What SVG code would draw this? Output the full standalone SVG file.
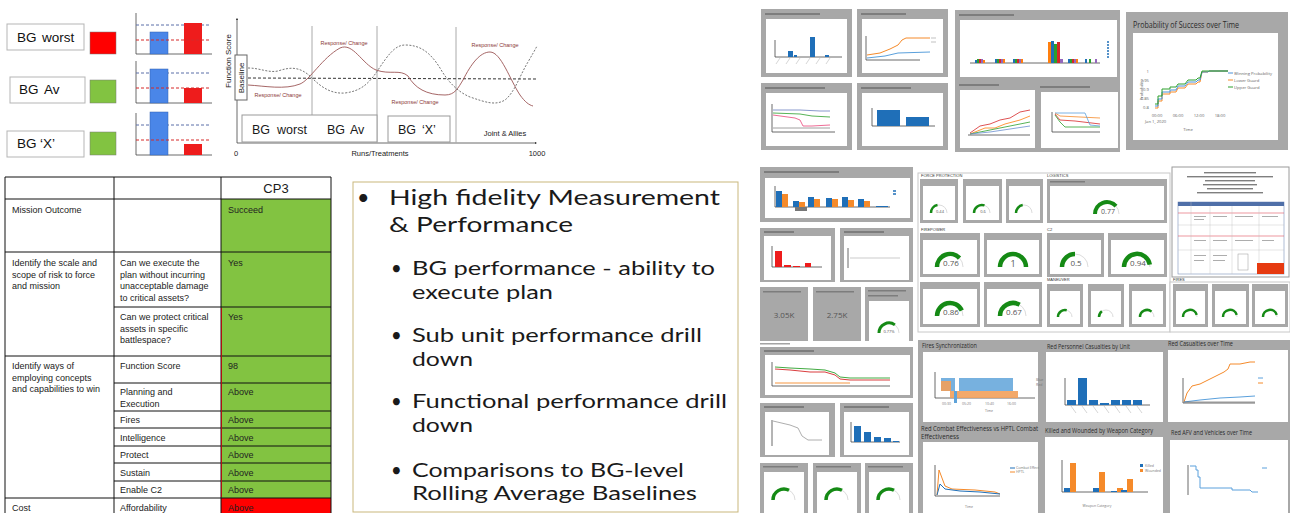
<svg xmlns="http://www.w3.org/2000/svg" width="1290" height="513" viewBox="0 0 1290 513">
  <style>
    .sans { font-family: "Liberation Sans", Arial, sans-serif; fill: #1a1a1a; }
    .lbl { font-family: "Liberation Sans", Arial, sans-serif; fill: #111; font-size: 13.5px; }
    .cell { font-family: "Liberation Sans", Arial, sans-serif; fill: #222; font-size: 9px; }
    .bul { font-family: Lato, "Open Sans", sans-serif; fill: #1a1a1a; }
    .resp { font-family: "Liberation Sans", Arial, sans-serif; fill: #8b3a3a; font-size: 5.5px; }
    .ttl { font-family: "Open Sans", "Noto Sans", sans-serif; fill: #2b2b2b; }
    .gv { font-family: "Open Sans", "Noto Sans", sans-serif; fill: #555; text-anchor: middle; }
    .panel { fill: #a8a8a8; }
    .inner { fill: #ffffff; }
    .tbar { fill: #5a5a5a; opacity: 0.55; }
    .grid { stroke: #111; stroke-width: 1; fill: none; }
    .gbg { fill: none; stroke: #dcdcdc; stroke-width: 1; }
    .gfg { fill: none; stroke: #158a15; }
    .ax { stroke: #444; stroke-width: 0.8; fill: none; }
    .tiny { stroke: #bbb; stroke-width: 0.6; fill: none; }
  </style>
  <defs>
    <marker id="tip" viewBox="0 0 4 4" refX="2" refY="2" markerWidth="3" markerHeight="3" orient="auto">
      <path d="M0,0 L4,2 L0,4 z" fill="#333"/>
    </marker>
  </defs>

  <rect width="1290" height="513" fill="#ffffff"/>

  <!-- Battlegroup labels with status swatches -->
  <g id="bg-worst">
    <rect x="7" y="24" width="77" height="26" fill="#fff" stroke="#b5b5b5"/>
    <text class="lbl" x="17" y="42">BG</text><text class="lbl" x="42" y="42">worst</text>
    <rect x="90" y="32" width="26" height="22" fill="#ff0000" stroke="#777" stroke-width="0.5"/>
  </g>
  <g id="bg-av">
    <rect x="10" y="77" width="75" height="26" fill="#fff" stroke="#b5b5b5"/>
    <text class="lbl" x="19" y="94">BG</text><text class="lbl" x="44" y="94">Av</text>
    <rect x="90" y="80" width="26" height="23" fill="#82c341" stroke="#777" stroke-width="0.5"/>
  </g>
  <g id="bg-x">
    <rect x="7" y="131" width="77" height="26" fill="#fff" stroke="#b5b5b5"/>
    <text class="lbl" x="17" y="148">BG</text><text class="lbl" x="40" y="148">‘X’</text>
    <rect x="90" y="132" width="26" height="23" fill="#82c341" stroke="#777" stroke-width="0.5"/>
  </g>

  <!-- Mini bar charts: blue = baseline, red = battlegroup -->
  <g id="mini-bars">
    <g>
      <path class="ax" d="M136,54 V13 M136,54 H212"/>
      <line x1="136" y1="25" x2="211" y2="25" stroke="#5b6fa8" stroke-dasharray="3,2"/>
      <rect x="150" y="32" width="18" height="22" fill="#4a86e8" stroke="#3060b0" stroke-width="0.5"/>
      <rect x="184" y="23" width="18" height="31" fill="#ee1c1c"/>
      <line x1="136" y1="40" x2="211" y2="40" stroke="#d62828" stroke-dasharray="3,2"/>
    </g>
    <g>
      <path class="ax" d="M136,103 V61 M136,103 H212"/>
      <line x1="136" y1="73" x2="211" y2="73" stroke="#5b6fa8" stroke-dasharray="3,2"/>
      <rect x="150" y="69" width="18" height="34" fill="#4a86e8" stroke="#3060b0" stroke-width="0.5"/>
      <rect x="184" y="88" width="18" height="15" fill="#ee1c1c"/>
      <line x1="136" y1="88" x2="211" y2="88" stroke="#d62828" stroke-dasharray="3,2"/>
    </g>
    <g>
      <path class="ax" d="M136,155 V113 M136,155 H212"/>
      <line x1="136" y1="125" x2="211" y2="125" stroke="#5b6fa8" stroke-dasharray="3,2"/>
      <rect x="150" y="112" width="18" height="43" fill="#4a86e8" stroke="#3060b0" stroke-width="0.5"/>
      <rect x="184" y="144" width="18" height="11" fill="#ee1c1c"/>
      <line x1="136" y1="140" x2="211" y2="140" stroke="#d62828" stroke-dasharray="3,2"/>
    </g>
  </g>

  <!-- Function score against runs -->
  <g id="score-chart">
    <text class="sans" font-size="8" text-anchor="middle" transform="translate(231,61) rotate(-90)">Function Score</text>
    <path class="ax" d="M237,143 V19" marker-end="url(#tip)"/>
    <path class="ax" d="M237,143 H536" marker-end="url(#tip)"/>
    <line x1="312" y1="26" x2="312" y2="116" stroke="#aaa"/>
    <line x1="377" y1="26" x2="377" y2="143" stroke="#aaa"/>
    <line x1="456" y1="27" x2="456" y2="143" stroke="#aaa"/>
    <line x1="248" y1="78" x2="536" y2="79" stroke="#333" stroke-dasharray="3,2"/>
    <path d="M248,85 C265,86 285,90 300,84 C310,80 322,58 340,48 C353,42 362,64 376,70 C390,75 400,69 408,76 C415,88 426,95 445,95 C455,95 458,88 463,80 C471,64 480,52 490,52 C501,52 510,80 520,95 C525,102 529,105 533,106" fill="none" stroke="#9b5555" stroke-width="0.9"/>
    <path d="M248,68 C260,68 268,73 278,71 C290,67 300,66 312,78 C322,88 332,94 345,93 C360,91 368,85 378,70 C388,55 395,45 405,45 C420,45 430,52 440,68 C448,82 458,92 470,97 C485,102 495,106 505,100 C515,92 520,75 528,62 C532,55 535,50 537,46" fill="none" stroke="#666" stroke-width="0.9" stroke-dasharray="2,1.5"/>
    <rect x="235" y="55" width="12" height="45" fill="#fff" stroke="#666"/>
    <text class="sans" font-size="8" text-anchor="middle" transform="translate(244,78) rotate(-90)">Baseline</text>
    <text class="resp" x="344" y="45" text-anchor="middle">Response/ Change</text>
    <text class="resp" x="278" y="97" text-anchor="middle">Response/ Change</text>
    <text class="resp" x="415" y="104" text-anchor="middle">Response/ Change</text>
    <text class="resp" x="495" y="47" text-anchor="middle">Response/ Change</text>
    <rect x="242" y="115" width="135" height="27" fill="#fff" stroke="#999"/>
    <text class="sans" font-size="12.5" x="252" y="134">BG</text>
    <text class="sans" font-size="12.5" x="277" y="134">worst</text>
    <text class="sans" font-size="12.5" x="327" y="134">BG</text>
    <text class="sans" font-size="12.5" x="350" y="134">Av</text>
    <rect x="388" y="116" width="62" height="26" fill="#fff" stroke="#999"/>
    <text class="sans" font-size="12.5" x="398" y="134">BG</text>
    <text class="sans" font-size="12.5" x="422" y="134">‘X’</text>
    <text class="sans" font-size="7.5" x="505" y="136" text-anchor="middle">Joint &amp; Allies</text>
    <text class="sans" font-size="7.5" x="236" y="156" text-anchor="middle">0</text>
    <text class="sans" font-size="7.5" x="380" y="156" text-anchor="middle">Runs/Treatments</text>
    <text class="sans" font-size="7.5" x="537" y="156" text-anchor="middle">1000</text>
  </g>

  <!-- Assessment table -->
  <g id="assessment-table">
    <rect x="221" y="199" width="110" height="299" fill="#82c341"/>
    <rect x="221" y="498" width="110" height="15" fill="#ff0000"/>
    <path class="grid" d="M5,177 H331 M5,199 H331 M5,252 H331 M5,356 H331 M5,498 H331 M114,307 H331 M114,383 H331 M114,411 H331 M114,428 H331 M114,446 H331 M114,463 H331 M114,481 H331 M5,177 V513 M114,177 V513 M221,177 V513 M331,177 V513"/>
    <line x1="221.5" y1="308" x2="221.5" y2="497" stroke="#b01010" stroke-width="1"/>
    <text class="sans" font-size="13" x="276" y="193" text-anchor="middle">CP3</text>
    <text class="cell" x="12" y="213">Mission Outcome</text>
    <text class="cell" x="228" y="213">Succeed</text>
    <text class="cell" x="12" y="266">Identify the scale and</text>
    <text class="cell" x="12" y="277.5">scope of risk to force</text>
    <text class="cell" x="12" y="289">and mission</text>
    <text class="cell" x="120" y="266">Can we execute the</text>
    <text class="cell" x="120" y="277.5">plan without incurring</text>
    <text class="cell" x="120" y="289">unacceptable damage</text>
    <text class="cell" x="120" y="300.5">to critical assets?</text>
    <text class="cell" x="228" y="266">Yes</text>
    <text class="cell" x="120" y="320">Can we protect critical</text>
    <text class="cell" x="120" y="331.5">assets in specific</text>
    <text class="cell" x="120" y="343">battlespace?</text>
    <text class="cell" x="228" y="320">Yes</text>
    <text class="cell" x="12" y="369">Identify ways of</text>
    <text class="cell" x="12" y="380.5">employing concepts</text>
    <text class="cell" x="12" y="392">and capabilities to win</text>
    <text class="cell" x="120" y="369">Function Score</text>
    <text class="cell" x="228" y="369">98</text>
    <text class="cell" x="120" y="395">Planning and</text>
    <text class="cell" x="120" y="406.5">Execution</text>
    <text class="cell" x="228" y="395">Above</text>
    <text class="cell" x="120" y="423">Fires</text>
    <text class="cell" x="228" y="423">Above</text>
    <text class="cell" x="120" y="441">Intelligence</text>
    <text class="cell" x="228" y="441">Above</text>
    <text class="cell" x="120" y="458">Protect</text>
    <text class="cell" x="228" y="458">Above</text>
    <text class="cell" x="120" y="476">Sustain</text>
    <text class="cell" x="228" y="476">Above</text>
    <text class="cell" x="120" y="493">Enable C2</text>
    <text class="cell" x="228" y="493">Above</text>
    <text class="cell" x="12" y="511">Cost</text>
    <text class="cell" x="120" y="511">Affordability</text>
    <text class="cell" x="228" y="511">Above</text>
  </g>

  <!-- Capability bullet points -->
  <g id="capability-notes">
    <rect x="353" y="182" width="385" height="330" fill="#fff" stroke="#c9b77d" stroke-width="1"/>
    <text class="bul" font-size="21.5" x="357" y="205">•</text>
    <text class="bul" font-size="21.5" x="389" y="205" textLength="331" lengthAdjust="spacingAndGlyphs">High fidelity Measurement</text>
    <text class="bul" font-size="21.5" x="389" y="232" textLength="184" lengthAdjust="spacingAndGlyphs">&amp; Performance</text>
    <text class="bul" font-size="18.5" x="391" y="275">•</text>
    <text class="bul" font-size="18.5" x="412" y="275" textLength="303" lengthAdjust="spacingAndGlyphs">BG performance  - ability to</text>
    <text class="bul" font-size="18.5" x="412" y="299" textLength="141" lengthAdjust="spacingAndGlyphs">execute plan</text>
    <text class="bul" font-size="18.5" x="391" y="342">•</text>
    <text class="bul" font-size="18.5" x="412" y="342" textLength="290" lengthAdjust="spacingAndGlyphs">Sub unit performance drill</text>
    <text class="bul" font-size="18.5" x="412" y="366" textLength="61" lengthAdjust="spacingAndGlyphs">down</text>
    <text class="bul" font-size="18.5" x="391" y="408">•</text>
    <text class="bul" font-size="18.5" x="412" y="408" textLength="315" lengthAdjust="spacingAndGlyphs">Functional performance drill</text>
    <text class="bul" font-size="18.5" x="412" y="432" textLength="61" lengthAdjust="spacingAndGlyphs">down</text>
    <text class="bul" font-size="18.5" x="391" y="477">•</text>
    <text class="bul" font-size="18.5" x="412" y="477" textLength="272" lengthAdjust="spacingAndGlyphs">Comparisons to BG-level</text>
    <text class="bul" font-size="18.5" x="412" y="500" textLength="285" lengthAdjust="spacingAndGlyphs">Rolling Average Baselines</text>
  </g>

  <!-- Dashboard: blue force panels -->
  <g id="dash-blue">
    <rect class="panel" x="761" y="9" width="91" height="68"/>
    <rect class="inner" x="766" y="19" width="81" height="54"/>
    <rect class="tbar" x="765" y="13" width="55" height="2"/>
    <path class="ax" d="M775,57 H842 M775,57 V40"/>
    <rect x="788" y="51" width="5" height="6" fill="#1f6fb8"/>
    <rect x="794" y="55" width="3" height="2" fill="#1f6fb8"/>
    <rect x="810" y="37" width="5" height="20" fill="#1f6fb8"/>
    <rect x="825" y="55" width="4" height="2" fill="#1f6fb8"/>
    <path class="tiny" d="M780,58 l-4,6 M790,58 l-4,6 M800,58 l-4,6 M810,58 l-4,6 M820,58 l-4,6 M830,58 l-4,6"/>

    <rect class="panel" x="857" y="9" width="91" height="68"/>
    <rect class="inner" x="862" y="19" width="81" height="54"/>
    <rect class="tbar" x="861" y="13" width="45" height="2"/>
    <path class="ax" d="M866,60 H920 M866,60 V36"/>
    <polyline points="867,55 880,53 890,49 898,45 902,40 906,38 930,38" fill="none" stroke="#f58a2a" stroke-width="1"/>
    <polyline points="867,58 885,56 898,53 930,52" fill="none" stroke="#5aa0dc" stroke-width="1"/>
    <path d="M931,38 h5 M931,42 h5" stroke="#999" stroke-width="0.6"/>

    <rect class="panel" x="761" y="83" width="91" height="67"/>
    <rect class="inner" x="766" y="93" width="81" height="53"/>
    <rect class="tbar" x="765" y="87" width="60" height="2"/>
    <path class="ax" d="M772,132 H835 M772,132 V104"/>
    <polyline points="773,110 800,110 820,111 830,111" fill="none" stroke="#6b7fc0" stroke-width="0.8"/>
    <polyline points="773,113 800,114 812,116 830,117" fill="none" stroke="#2ca02c" stroke-width="0.8"/>
    <polyline points="773,115 795,118 800,120 803,126 812,126 830,125" fill="none" stroke="#e8457a" stroke-width="0.8"/>
    <polyline points="773,128 800,128 830,128" fill="none" stroke="#888" stroke-width="0.8"/>

    <rect class="panel" x="857" y="83" width="91" height="67"/>
    <rect class="inner" x="862" y="93" width="81" height="53"/>
    <rect class="tbar" x="861" y="87" width="50" height="2"/>
    <path class="ax" d="M872,126 H935 M872,126 V108"/>
    <rect x="877" y="110" width="23" height="16" fill="#1f6fb8"/>
    <rect x="906" y="117" width="23" height="9" fill="#1f6fb8"/>
  </g>

  <!-- Dashboard: net casualties and vehicles -->
  <g id="dash-net">
    <rect class="panel" x="955" y="10" width="165" height="142"/>
    <rect class="inner" x="960" y="20" width="157" height="57"/>
    <rect class="tbar" x="959" y="14" width="55" height="2"/>
    <path class="ax" d="M970,63 H1100"/>
    <rect x="975" y="60" width="2" height="3" fill="#1f6fb8"/><rect x="977" y="59" width="2" height="4" fill="#2ca02c"/><rect x="979" y="59" width="2" height="4" fill="#d62728"/><rect x="981" y="59" width="2" height="4" fill="#9467bd"/><rect x="983" y="60" width="2" height="3" fill="#ff7f0e"/>
    <rect x="995" y="59" width="2" height="4" fill="#1f6fb8"/><rect x="997" y="59" width="2" height="4" fill="#2ca02c"/><rect x="999" y="59" width="2" height="4" fill="#d62728"/><rect x="1001" y="59" width="2" height="4" fill="#9467bd"/><rect x="1003" y="59" width="2" height="4" fill="#ff7f0e"/>
    <rect x="1013" y="59" width="2" height="4" fill="#1f6fb8"/><rect x="1015" y="59" width="2" height="4" fill="#2ca02c"/><rect x="1017" y="59" width="2" height="4" fill="#d62728"/><rect x="1019" y="59" width="2" height="4" fill="#9467bd"/><rect x="1021" y="59" width="2" height="4" fill="#ff7f0e"/>
    <rect x="1048" y="42" width="3" height="21" fill="#ff7f0e"/><rect x="1051" y="41" width="3" height="22" fill="#1f6fb8"/><rect x="1054" y="44" width="3" height="19" fill="#2ca02c"/><rect x="1057" y="42" width="3" height="21" fill="#d62728"/><rect x="1060" y="59" width="3" height="4" fill="#9467bd"/>
    <rect x="1068" y="59" width="2" height="4" fill="#1f6fb8"/><rect x="1070" y="59" width="2" height="4" fill="#2ca02c"/><rect x="1072" y="59" width="2" height="4" fill="#d62728"/><rect x="1074" y="59" width="2" height="4" fill="#9467bd"/><rect x="1076" y="59" width="2" height="4" fill="#ff7f0e"/>
    <rect x="1085" y="59" width="2" height="4" fill="#1f6fb8"/><rect x="1089" y="59" width="2" height="4" fill="#2ca02c"/><rect x="1095" y="59" width="2" height="4" fill="#9467bd"/>
    <path d="M1107,42 h2 M1107,45 h2 M1107,48 h2 M1107,51 h2 M1107,54 h2 M1107,57 h2" stroke="#1f6fb8" stroke-width="1.5"/>

    <rect class="inner" x="960" y="90" width="75" height="58"/>
    <rect class="tbar" x="959" y="84" width="40" height="2"/>
    <path class="ax" d="M968,135 H1030"/>
    <polyline points="970,133 980,126 990,124 1000,120 1010,118 1020,112 1030,110" fill="none" stroke="#d62728" stroke-width="0.8"/>
    <polyline points="970,134 985,128 995,128 1005,124 1020,120 1030,116" fill="none" stroke="#ff7f0e" stroke-width="0.8"/>
    <polyline points="970,134 990,130 1010,126 1030,122" fill="none" stroke="#2ca02c" stroke-width="0.8"/>
    <polyline points="970,134 990,132 1010,129 1030,126" fill="none" stroke="#6b8fd0" stroke-width="0.8"/>

    <rect class="inner" x="1041" y="92" width="77" height="56"/>
    <rect class="tbar" x="1040" y="86" width="50" height="2"/>
    <path class="ax" d="M1052,132 H1100 M1052,132 V112"/>
    <polyline points="1055,113 1060,116 1080,117 1100,118" fill="none" stroke="#f58a2a" stroke-width="0.8"/>
    <polyline points="1055,114 1060,120 1075,121 1100,124" fill="none" stroke="#d62728" stroke-width="0.8"/>
    <polyline points="1055,115 1060,122 1065,127 1100,127" fill="none" stroke="#2ca02c" stroke-width="0.8"/>
    <polyline points="1055,113 1085,113 1090,125 1100,126" fill="none" stroke="#5aa0dc" stroke-width="0.8"/>
  </g>

  <!-- Dashboard: probability of success -->
  <g id="dash-probability">
    <rect class="panel" x="1126" y="12" width="162" height="138"/>
    <rect class="inner" x="1133" y="33" width="145" height="107"/>
    <text class="ttl" font-size="9.5" x="1133" y="28" textLength="106" lengthAdjust="spacingAndGlyphs">Probability of Success over Time</text>
    <g font-family="Open Sans, sans-serif" font-size="4.2" fill="#666">
      <text x="1149" y="73" text-anchor="end">1</text>
      <text x="1149" y="82" text-anchor="end">0.95</text>
      <text x="1149" y="91" text-anchor="end">0.9</text>
      <text x="1149" y="100" text-anchor="end">0.85</text>
      <text x="1149" y="109" text-anchor="end">0.8</text>
      <text x="1157" y="117" text-anchor="middle">00:00</text>
      <text x="1178" y="117" text-anchor="middle">06:00</text>
      <text x="1199" y="117" text-anchor="middle">12:00</text>
      <text x="1220" y="117" text-anchor="middle">18:00</text>
      <text x="1145" y="123">Jan 1, 2020</text>
      <text x="1188" y="131" text-anchor="middle">Time</text>
      <text transform="translate(1143,90) rotate(-90)" text-anchor="middle">Probability</text>
      <text x="1234" y="75">Winning Probability</text>
      <text x="1234" y="82">Lower Guard</text>
      <text x="1234" y="89">Upper Guard</text>
    </g>
    <path d="M1228,73 h5" stroke="#4a90d9"/><path d="M1228,80 h5" stroke="#f58a2a"/><path d="M1228,87 h5" stroke="#2ca02c"/>
    <polyline points="1155,108 1158,108 1158,101 1162,101 1162,94 1170,94 1170,92 1176,92 1178,88 1185,88 1188,84 1196,84 1198,82 1200,82 1202,72 1208,72 1209,71 1228,71" fill="none" stroke="#f58a2a" stroke-width="1"/>
    <polyline points="1155,106 1158,106 1158,99 1162,99 1162,92 1170,92 1170,90 1176,90 1178,86 1185,86 1188,82 1196,82 1198,80 1200,80 1202,72 1208,72 1209,71 1228,71" fill="none" stroke="#4a90d9" stroke-width="1"/>
    <polyline points="1155,104 1158,104 1158,96 1162,96 1162,89 1170,89 1170,87 1176,87 1178,84 1185,84 1188,80 1196,80 1198,78 1200,78 1202,71 1228,71" fill="none" stroke="#2ca02c" stroke-width="1"/>
  </g>

  <!-- Dashboard: left column (strength, losses, key figures) -->
  <g id="dash-left">
    <rect class="panel" x="760" y="167" width="153" height="55"/>
    <rect class="inner" x="765" y="178" width="145" height="40"/>
    <rect class="tbar" x="764" y="171" width="75" height="2"/>
    <path class="ax" d="M775,207 H890 M775,207 V186"/>
    <rect x="776" y="191" width="6" height="16" fill="#1f6fb8"/><rect x="782" y="194" width="6" height="13" fill="#f58a2a"/>
    <rect x="793" y="201" width="6" height="6" fill="#1f6fb8"/><rect x="799" y="202" width="6" height="5" fill="#f58a2a"/>
    <rect x="808" y="197" width="6" height="10" fill="#1f6fb8"/><rect x="814" y="199" width="6" height="8" fill="#f58a2a"/>
    <rect x="826" y="198" width="6" height="9" fill="#1f6fb8"/><rect x="832" y="199" width="6" height="8" fill="#f58a2a"/>
    <rect x="842" y="197" width="6" height="10" fill="#1f6fb8"/><rect x="848" y="200" width="6" height="7" fill="#f58a2a"/>
    <rect x="858" y="199" width="6" height="8" fill="#1f6fb8"/><rect x="864" y="201" width="6" height="6" fill="#f58a2a"/>
    <rect x="876" y="206" width="12" height="1" fill="#1f6fb8"/>
    <rect x="795" y="207" width="12" height="4" fill="#777"/>
    <path d="M893,191 h3 M893,194 h3" stroke="#1f6fb8" stroke-width="1.5"/>

    <rect class="panel" x="760" y="228" width="75" height="54"/>
    <rect class="inner" x="764" y="236" width="67" height="44"/>
    <rect class="tbar" x="764" y="231" width="30" height="2"/>
    <path class="ax" d="M772,267 H822 M772,267 V246"/>
    <rect x="775" y="251" width="7" height="16" fill="#ee1c1c"/>
    <rect x="784" y="265" width="7" height="2" fill="#ee1c1c"/>
    <rect x="793" y="266" width="7" height="1" fill="#ee1c1c"/>
    <rect x="805" y="263" width="6" height="4" fill="#ee1c1c"/>

    <rect class="panel" x="840" y="228" width="73" height="54"/>
    <rect class="inner" x="844" y="236" width="65" height="44"/>
    <rect class="tbar" x="844" y="231" width="40" height="2"/>
    <path class="ax" d="M848,268 V248"/>
    <line x1="850" y1="258" x2="900" y2="258" stroke="#aaa" stroke-width="0.6"/>

    <rect class="panel" x="760" y="287" width="48" height="54"/>
    <rect class="tbar" x="763" y="291" width="38" height="1.5"/>
    <text class="gv" font-size="8" x="784" y="318">3.05K</text>
    <rect class="panel" x="813" y="287" width="48" height="54"/>
    <rect class="tbar" x="816" y="291" width="38" height="1.5"/>
    <text class="gv" font-size="8" x="837" y="318">2.75K</text>
    <rect class="panel" x="865" y="287" width="48" height="54"/>
    <rect class="inner" x="869" y="301" width="40" height="40"/>
    <rect class="tbar" x="868" y="290" width="38" height="1.5"/>
    <rect class="tbar" x="868" y="295" width="30" height="1.5"/>
    <path class="gbg" d="M879,333 A10,10 0 0 1 899,333"/>
    <path class="gfg" stroke-width="3" d="M879,333 A10,10 0 0 1 894.9,324.9"/>
    <text class="gv" font-size="4" x="889" y="333">0.77%</text>

    <rect class="tbar" x="760" y="343" width="30" height="1.5"/>
    <rect class="panel" x="760" y="347" width="153" height="51"/>
    <rect class="inner" x="765" y="355" width="145" height="40"/>
    <rect class="tbar" x="764" y="350" width="50" height="2"/>
    <path class="ax" d="M772,386 H890 M772,386 V362"/>
    <polyline points="775,367 790,368 810,369 825,370 835,373 840,377 850,378 870,378 890,378" fill="none" stroke="#2ca02c" stroke-width="0.9"/>
    <polyline points="775,369 790,370 810,372 825,372 835,375 840,379 850,380 870,380 890,380" fill="none" stroke="#d62728" stroke-width="0.9"/>
    <polyline points="775,383 850,383" fill="none" stroke="#f58a2a" stroke-width="0.9"/>

    <rect class="panel" x="760" y="403" width="75" height="54"/>
    <rect class="inner" x="765" y="412" width="64" height="43"/>
    <rect class="tbar" x="764" y="406" width="40" height="2"/>
    <path class="ax" d="M772,446 V420"/>
    <polyline points="773,421 790,425 798,428 802,436 808,440 822,440" fill="none" stroke="#999" stroke-width="0.8"/>

    <rect class="panel" x="840" y="403" width="73" height="54"/>
    <rect class="inner" x="844" y="412" width="65" height="43"/>
    <rect class="tbar" x="844" y="406" width="45" height="2"/>
    <path class="ax" d="M851,442 H900 M851,442 V422"/>
    <rect x="854" y="426" width="7" height="16" fill="#1f6fb8"/>
    <rect x="864" y="432" width="7" height="10" fill="#1f6fb8"/>
    <rect x="874" y="437" width="7" height="5" fill="#1f6fb8"/>
    <rect x="884" y="438" width="7" height="4" fill="#1f6fb8"/>
    <rect x="893" y="441" width="6" height="1" fill="#1f6fb8"/>

    <rect class="panel" x="760" y="463" width="48" height="50"/>
    <rect class="inner" x="764" y="472" width="40" height="41"/>
    <rect class="tbar" x="763" y="466" width="35" height="1.5"/>
    <path class="gbg" d="M773,500 A11,11 0 0 1 795,500"/>
    <path class="gfg" stroke-width="3.5" d="M773,500 A11,11 0 0 1 789,490.2"/>
    <rect class="panel" x="813" y="463" width="48" height="50"/>
    <rect class="inner" x="817" y="472" width="40" height="41"/>
    <rect class="tbar" x="816" y="466" width="35" height="1.5"/>
    <path class="gbg" d="M826,500 A11,11 0 0 1 848,500"/>
    <path class="gfg" stroke-width="3.5" d="M826,500 A11,11 0 0 1 842,490.2"/>
    <rect class="panel" x="865" y="463" width="48" height="50"/>
    <rect class="inner" x="869" y="472" width="40" height="41"/>
    <rect class="tbar" x="868" y="466" width="35" height="1.5"/>
    <path class="gbg" d="M878,500 A11,11 0 0 1 900,500"/>
    <path class="gfg" stroke-width="3.5" d="M878,500 A11,11 0 0 1 894,490.2"/>
  </g>

  <!-- Dashboard: functional gauges -->
  <g id="dash-gauges">
    <rect x="918" y="173" width="252" height="159" fill="#fff" stroke="#c8c8c8"/>
    <g font-family="Liberation Sans, Arial, sans-serif" font-size="4" fill="#333">
      <text x="921" y="177">FORCE PROTECTION</text>
      <text x="1047" y="177">LOGISTICS</text>
      <text x="921" y="231">FIREPOWER</text>
      <text x="1047" y="231">C2</text>
      <text x="1047" y="281">MANEUVER</text>
      <text x="1173" y="281">FIRES</text>
    </g>

    <rect class="panel" x="920" y="179" width="38" height="44"/><rect class="inner" x="923" y="186" width="32" height="34"/>
    <path class="gbg" d="M931,213 A8,8 0 0 1 947,213"/><path class="gfg" stroke-width="2.5" d="M931,213 A8,8 0 0 1 937.5,205.1"/>
    <text class="gv" font-size="4" x="940" y="213">0.44</text>
    <rect class="panel" x="963" y="179" width="39" height="44"/><rect class="inner" x="966" y="186" width="33" height="34"/>
    <path class="gbg" d="M974,213 A8,8 0 0 1 990,213"/><path class="gfg" stroke-width="2.5" d="M974,213 A8,8 0 0 1 984.5,205.4"/>
    <text class="gv" font-size="4" x="983" y="213">0.6</text>
    <rect class="panel" x="1006" y="179" width="37" height="44"/><rect class="inner" x="1009" y="186" width="31" height="34"/>
    <path class="gbg" d="M1016,213 A8,8 0 0 1 1032,213"/><path class="gfg" stroke-width="2.5" d="M1016,213 A8,8 0 0 1 1022.7,205.1"/>

    <rect class="panel" x="1047" y="179" width="120" height="44"/><rect class="inner" x="1050" y="186" width="114" height="34"/>
    <rect class="tbar" x="1050" y="181" width="35" height="1.5"/>
    <path class="gbg" d="M1095,214 A12,12 0 0 1 1119,214"/><path class="gfg" stroke-width="4" d="M1095,214 A12,12 0 0 1 1116,206.1"/>
    <text class="gv" font-size="7" x="1108" y="214">0.77</text>

    <rect class="panel" x="920" y="233" width="60" height="44"/><rect class="inner" x="923" y="240" width="54" height="34"/>
    <path class="gbg" d="M937,267 A13,13 0 0 1 963,267"/><path class="gfg" stroke-width="4.5" d="M937,267 A13,13 0 0 1 959.5,258.1"/>
    <text class="gv" font-size="8" x="951" y="266">0.76</text>
    <rect class="panel" x="984" y="233" width="58" height="44"/><rect class="inner" x="987" y="240" width="52" height="34"/>
    <path class="gfg" stroke-width="4.5" d="M1000,267 A13,13 0 0 1 1026,267"/>
    <text class="gv" font-size="9" x="1013" y="267">1</text>
    <rect class="panel" x="1047" y="233" width="57" height="44"/><rect class="inner" x="1050" y="240" width="51" height="34"/>
    <path class="gbg" d="M1062,267 A13,13 0 0 1 1088,267"/><path class="gfg" stroke-width="4.5" d="M1062,267 A13,13 0 0 1 1075,254"/>
    <text class="gv" font-size="8" x="1076" y="266">0.5</text>
    <rect class="panel" x="1108" y="233" width="59" height="44"/><rect class="inner" x="1111" y="240" width="53" height="34"/>
    <path class="gbg" d="M1124,267 A13,13 0 0 1 1150,267"/><path class="gfg" stroke-width="4.5" d="M1124,267 A13,13 0 0 1 1149.8,264.6"/>
    <text class="gv" font-size="8" x="1138" y="266">0.94</text>

    <rect class="panel" x="920" y="282" width="60" height="45"/><rect class="inner" x="923" y="289" width="54" height="35"/>
    <path class="gbg" d="M937,316 A13,13 0 0 1 963,316"/><path class="gfg" stroke-width="4.5" d="M937,316 A13,13 0 0 1 961.8,310.5"/>
    <text class="gv" font-size="8" x="951" y="315">0.86</text>
    <rect class="panel" x="984" y="282" width="58" height="45"/><rect class="inner" x="987" y="289" width="52" height="35"/>
    <path class="gbg" d="M1000,316 A13,13 0 0 1 1026,316"/><path class="gfg" stroke-width="4.5" d="M1000,316 A13,13 0 0 1 1019.6,304.8"/>
    <text class="gv" font-size="8" x="1014" y="315">0.67</text>

    <rect class="panel" x="1047" y="284" width="36" height="43"/><rect class="inner" x="1050" y="291" width="30" height="33"/>
    <path class="gbg" d="M1058,317 A7,7 0 0 1 1072,317"/><path class="gfg" stroke-width="2.5" d="M1058,317 A7,7 0 0 1 1066.7,310.2"/>
    <rect class="panel" x="1088" y="284" width="36" height="43"/><rect class="inner" x="1091" y="291" width="30" height="33"/>
    <path class="gbg" d="M1099,317 A7,7 0 0 1 1113,317"/><path class="gfg" stroke-width="2.5" d="M1099,317 A7,7 0 0 1 1101.9,311.3"/>
    <rect class="panel" x="1129" y="284" width="37" height="43"/><rect class="inner" x="1132" y="291" width="31" height="33"/>
    <path class="gbg" d="M1140,317 A7,7 0 0 1 1154,317"/><path class="gfg" stroke-width="2.5" d="M1140,317 A7,7 0 0 1 1151.5,311.6"/>

    <rect x="1170" y="282" width="120" height="50" fill="#fff" stroke="#c8c8c8"/>
    <rect class="panel" x="1173" y="284" width="35" height="43"/><rect class="inner" x="1176" y="291" width="29" height="33"/>
    <path class="gbg" d="M1183,317 A7,7 0 0 1 1197,317"/><path class="gfg" stroke-width="2.5" d="M1183,317 A7,7 0 0 1 1196.7,314.8"/>
    <rect class="panel" x="1212" y="284" width="37" height="43"/><rect class="inner" x="1215" y="291" width="31" height="33"/>
    <path class="gbg" d="M1223,317 A7,7 0 0 1 1237,317"/><path class="gfg" stroke-width="2.5" d="M1223,317 A7,7 0 0 1 1236.7,314.8"/>
    <rect class="panel" x="1252" y="284" width="36" height="43"/><rect class="inner" x="1255" y="291" width="30" height="33"/>
    <path class="gbg" d="M1263,317 A7,7 0 0 1 1277,317"/><path class="gfg" stroke-width="2.5" d="M1263,317 A7,7 0 0 1 1276.7,314.8"/>
  </g>

  <!-- Dashboard: capability summary sheet -->
  <g id="dash-summary">
    <rect x="1172" y="167" width="117" height="110" fill="#fff" stroke="#9a9a9a"/>
    <g fill="#555" opacity="0.75">
      <rect x="1204" y="172" width="52" height="1.4"/>
      <rect x="1187" y="176" width="86" height="1.4"/>
      <rect x="1205" y="180" width="50" height="1.4"/>
      <rect x="1203" y="184" width="54" height="1.4"/>
      <rect x="1207" y="188" width="46" height="1.4"/>
      <rect x="1197" y="192" width="66" height="1.4"/>
    </g>
    <rect x="1178" y="202" width="106" height="72" fill="#fff" stroke="#7a8fb8" stroke-width="0.6"/>
    <rect x="1178" y="202" width="106" height="4" fill="#4f6fa8"/>
    <path d="M1178,213 H1284 M1178,236 H1284" stroke="#e05060" stroke-width="0.6"/>
    <path d="M1178,225 H1284 M1178,250 H1284 M1191,202 V274 M1210,206 V274 M1232,206 V274 M1259,206 V274" stroke="#bbb" stroke-width="0.4"/>
    <g fill="#999">
      <rect x="1194" y="216" width="12" height="0.8"/><rect x="1194" y="219" width="10" height="0.8"/><rect x="1213" y="216" width="14" height="0.8"/><rect x="1235" y="216" width="18" height="0.8"/><rect x="1262" y="216" width="16" height="0.8"/>
      <rect x="1194" y="240" width="12" height="0.8"/><rect x="1213" y="240" width="14" height="0.8"/><rect x="1235" y="240" width="18" height="0.8"/><rect x="1262" y="240" width="12" height="0.8"/>
      <rect x="1194" y="255" width="12" height="0.8"/><rect x="1213" y="255" width="14" height="0.8"/><rect x="1194" y="260" width="10" height="0.8"/><rect x="1213" y="260" width="12" height="0.8"/>
    </g>
    <rect x="1238" y="254" width="10" height="16" fill="none" stroke="#999" stroke-width="0.5"/>
    <rect x="1257" y="263" width="27" height="11" fill="#e63a10"/>
  </g>

  <!-- Dashboard: red force analysis -->
  <g id="dash-red">
    <rect class="panel" x="918" y="340" width="372" height="173"/>

    <text class="ttl" font-size="6.5" x="922" y="348" textLength="55" lengthAdjust="spacingAndGlyphs">Fires Synchronization</text>
    <rect class="inner" x="923" y="352" width="115" height="70"/>
    <path class="ax" d="M935,398 H1035 M935,398 V372"/>
    <rect x="941" y="378" width="14" height="13" fill="#5fa3d9" opacity="0.85"/>
    <rect x="941" y="381" width="10" height="10" fill="#f2a05a" opacity="0.9"/>
    <rect x="959" y="378" width="54" height="13" fill="#5fa3d9" opacity="0.85"/>
    <rect x="950" y="391" width="68" height="7" fill="#f2a05a" opacity="0.9"/>
    <rect x="954" y="391" width="3" height="12" fill="#5fa3d9"/>
    <g font-family="Open Sans, sans-serif" font-size="3.5" fill="#777">
      <text x="942" y="405">00:30</text><text x="962" y="405">05:20</text><text x="985" y="405">10:40</text><text x="1007" y="405">16:00</text>
      <text x="985" y="412">Time</text>
      <text x="1036" y="381">Blue</text><text x="1036" y="386">Red</text>
    </g>

    <text class="ttl" font-size="6.5" x="921" y="431" textLength="117" lengthAdjust="spacingAndGlyphs">Red Combat Effectiveness vs HPTL Combat</text>
    <text class="ttl" font-size="6.5" x="921" y="439" textLength="38" lengthAdjust="spacingAndGlyphs">Effectiveness</text>
    <rect class="inner" x="923" y="442" width="115" height="71"/>
    <path class="ax" d="M935,496 H1000 M935,496 V465"/>
    <polyline points="937,495 939,470 942,478 945,486 952,489 975,490 995,492 1000,494" fill="none" stroke="#f58a2a" stroke-width="1"/>
    <polyline points="937,495 940,484 945,489 960,491 980,492 1000,494" fill="none" stroke="#1f6fb8" stroke-width="1"/>
    <path d="M1010,468 h5" stroke="#1f6fb8"/><path d="M1010,472 h5" stroke="#f58a2a"/>
    <g font-family="Open Sans, sans-serif" font-size="3.5" fill="#777">
      <text x="1016" y="469">Combat Effect</text><text x="1016" y="473">HPTL</text>
      <text x="965" y="508">Time</text>
    </g>

    <text class="ttl" font-size="6.5" x="1047" y="349" textLength="83" lengthAdjust="spacingAndGlyphs">Red Personnel Casualties by Unit</text>
    <rect class="inner" x="1046" y="352" width="117" height="70"/>
    <path class="ax" d="M1065,405 H1150 M1065,405 V378"/>
    <rect x="1067" y="400" width="9" height="5" fill="#1f6fb8"/>
    <rect x="1078" y="378" width="9" height="27" fill="#1f6fb8"/>
    <rect x="1089" y="400" width="9" height="5" fill="#1f6fb8"/>
    <rect x="1100" y="403" width="9" height="2" fill="#1f6fb8"/>
    <rect x="1111" y="400" width="9" height="5" fill="#1f6fb8"/>
    <rect x="1122" y="400" width="9" height="5" fill="#1f6fb8"/>
    <rect x="1133" y="400" width="9" height="5" fill="#1f6fb8"/>
    <path class="tiny" d="M1071,406 l5,7 M1082,406 l5,7 M1093,406 l5,7 M1104,406 l5,7 M1115,406 l5,7 M1126,406 l5,7 M1137,406 l5,7"/>

    <text class="ttl" font-size="6.5" x="1168" y="346" textLength="65" lengthAdjust="spacingAndGlyphs">Red Casualties over Time</text>
    <rect class="inner" x="1168" y="350" width="120" height="72"/>
    <path class="ax" d="M1183,403 H1255 M1183,403 V378"/>
    <polyline points="1184,402 1187,393 1192,386 1200,384 1208,380 1216,376 1224,372 1228,369 1230,364 1240,364 1250,362 1255,362" fill="none" stroke="#f58a2a" stroke-width="1"/>
    <polyline points="1184,402 1200,400 1220,398 1240,397 1255,396" fill="none" stroke="#5aa0dc" stroke-width="1"/>
    <polyline points="1184,402 1255,402" fill="none" stroke="#555" stroke-width="0.6"/>
    <path d="M1258,378 h5" stroke="#5aa0dc"/><path d="M1258,383 h5" stroke="#f58a2a"/>

    <text class="ttl" font-size="6.5" x="1045" y="433" textLength="108" lengthAdjust="spacingAndGlyphs">Killed and Wounded by Weapon Category</text>
    <rect class="inner" x="1045" y="437" width="118" height="76"/>
    <path class="ax" d="M1062,492 H1148 M1062,492 V460"/>
    <rect x="1064" y="488" width="6" height="4" fill="#1f6fb8"/><rect x="1070" y="463" width="6" height="29" fill="#f58a2a"/>
    <rect x="1093" y="488" width="6" height="4" fill="#1f6fb8"/><rect x="1099" y="472" width="6" height="20" fill="#f58a2a"/>
    <rect x="1111" y="491" width="6" height="1" fill="#1f6fb8"/><rect x="1117" y="488" width="6" height="4" fill="#f58a2a"/>
    <rect x="1121" y="490" width="6" height="2" fill="#1f6fb8"/><rect x="1127" y="479" width="6" height="13" fill="#f58a2a"/>
    <rect x="1140" y="464" width="3" height="3" fill="#1f6fb8"/><rect x="1140" y="469" width="3" height="3" fill="#f58a2a"/>
    <g font-family="Open Sans, sans-serif" font-size="3.5" fill="#777">
      <text x="1145" y="467">Killed</text><text x="1145" y="472">Wounded</text>
      <text x="1097" y="507" text-anchor="middle">Weapon Category</text>
    </g>

    <text class="ttl" font-size="6.5" x="1171" y="435" textLength="81" lengthAdjust="spacingAndGlyphs">Red AFV and Vehicles over Time</text>
    <rect class="inner" x="1170" y="440" width="118" height="73"/>
    <path class="ax" d="M1188,495 V465"/>
    <polyline points="1190,466 1196,466 1196,470 1198,470 1198,477 1200,477 1200,488 1212,488 1232,488 1232,490 1250,490 1252,492 1258,492" fill="none" stroke="#5aa0dc" stroke-width="1"/>
    <path d="M1262,468 h5" stroke="#5aa0dc"/>
  </g>
</svg>
